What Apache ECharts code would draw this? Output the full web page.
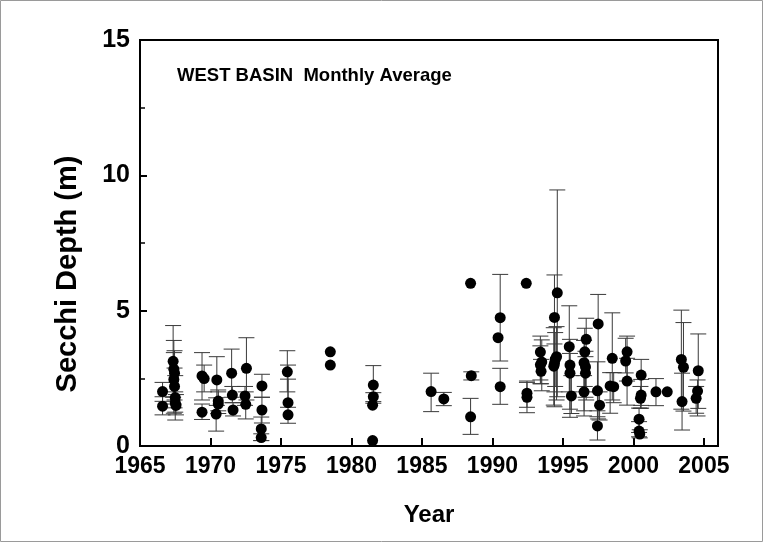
<!DOCTYPE html>
<html>
<head>
<meta charset="utf-8">
<script src="https://cdn.jsdelivr.net/npm/echarts@6/dist/echarts.min.js"></script>
<style>
html,body{margin:0;padding:0;background:#fff;}
#chart{width:763px;height:542px;}
</style>
</head>
<body>
<div id="chart"></div>
<script>
// Year of each monthly average
const years = [
  1966.6, 1966.6,
  1967.35, 1967.4, 1967.45, 1967.4, 1967.45, 1967.5, 1967.5, 1967.55,
  1969.4, 1969.55, 1969.4,
  1970.45, 1970.55, 1970.55, 1970.4,
  1971.5, 1971.55, 1971.6,
  1972.55, 1972.45, 1972.5,
  1973.65, 1973.65, 1973.6, 1973.6,
  1975.45, 1975.5, 1975.5,
  1978.5, 1978.5,
  1981.55, 1981.55, 1981.5, 1981.5,
  1985.65,
  1986.55,
  1988.45, 1988.5, 1988.45,
  1990.55, 1990.4, 1990.55,
  1992.4, 1992.45, 1992.45,
  1993.4, 1993.5, 1993.4, 1993.45,
  1994.6, 1994.4, 1994.55, 1994.45, 1994.4, 1994.35,
  1995.45, 1995.5, 1995.5, 1995.6,
  1996.65, 1996.55, 1996.5, 1996.6, 1996.6, 1996.5,
  1997.5, 1997.45, 1997.6, 1997.45,
  1998.5, 1998.35, 1998.6,
  1999.55, 1999.45, 1999.55,
  2000.55, 2000.55, 2000.5, 2000.4, 2000.4, 2000.45,
  2001.6,
  2002.4,
  2003.4, 2003.55, 2003.45,
  2004.6, 2004.55, 2004.45
];
// Secchi depth (m)
const depths = [
  2.01, 1.47,
  3.13, 2.84, 2.69, 2.46, 2.2, 1.79, 1.6, 1.5,
  2.59, 2.49, 1.25,
  2.44, 1.66, 1.55, 1.18,
  2.69, 1.88, 1.33,
  2.87, 1.85, 1.54,
  2.22, 1.33, 0.63, 0.31,
  2.74, 1.6, 1.15,
  3.48, 2.99,
  2.25, 1.82, 1.51, 0.2,
  2.01,
  1.74,
  6.01, 2.6, 1.08,
  4.74, 4.0, 2.19,
  6.01, 1.95, 1.8,
  3.47, 3.1, 3.0, 2.76,
  5.66, 4.75, 3.3, 3.2, 3.05, 2.95,
  3.67, 2.99, 2.69, 1.85,
  3.94, 3.48, 3.08, 2.92, 2.69, 2.0,
  4.51, 2.04, 1.51, 0.74,
  3.24, 2.22, 2.19,
  3.48, 3.14, 2.4,
  2.62, 1.88, 1.76, 0.99, 0.55, 0.44,
  2.0,
  2.0,
  3.2, 2.91, 1.64,
  2.78, 2.03, 1.76
];
// Error bar lower / upper ends (null = no bar)
const errLow = [
  1.65, 1.15,
  1.8, 1.55, 1.7, 1.21, 1.41, 0.96, 1.25, 1.15,
  1.7, 2.0, 0.98,
  1.5, 1.3, 1.2, 0.55,
  1.8, 1.6, 1.11,
  1.7, 1.5, 1.0,
  1.8, 0.85, 0.2, 0.2,
  2.0, 1.43, 0.84,
  null, null,
  1.58, 1.64, null, null,
  1.27,
  1.49,
  null, 2.44, 0.43,
  3.14, null, 1.54,
  null, 1.43, 1.23,
  2.44, 2.04, 2.3, 2.3,
  1.82, 1.45, 1.7, 2.2, 2.0, 1.51,
  2.0, 1.06, 1.36, 1.2,
  1.7, 2.2, 1.11, 1.8, 2.0, 1.3,
  1.0, 1.08, 0.96, 0.22,
  1.7, 1.21, 1.6,
  2.4, 2.7, 1.51,
  1.4, 1.5, 1.39, 0.5, 0.34, 0.3,
  1.49,
  null,
  1.36, 1.29, 0.59,
  1.39, 1.11, 1.21
];
const errHigh = [
  2.35, 1.82,
  4.45, 3.9, 3.52, 3.45, 2.88, 2.6, 2.0, 1.9,
  3.45, 2.99, 1.55,
  3.3, 2.0, 2.07, 1.78,
  3.58, 2.2, 1.6,
  4.0, 2.2, 2.0,
  2.65, 1.8, 1.07, 0.45,
  3.52, 2.99, 2.47,
  null, null,
  2.97, 1.97, null, null,
  2.69,
  1.98,
  null, 2.74, 1.76,
  6.34, null, 2.87,
  null, 2.4, 2.35,
  4.06, 3.92, 3.7, 3.2,
  9.46, 6.32, 4.41, 4.19, 3.77, 4.37,
  5.18, 3.94, 3.42, 2.6,
  4.72, 4.35, 3.9, 3.5, 3.3, 2.6,
  5.6, 3.11, 2.0, 1.3,
  4.92, 2.71, 2.71,
  4.06, 3.98, 3.24,
  3.2, 2.46, 2.2, 1.4, 0.9, 0.6,
  2.49,
  null,
  5.02, 4.56, 2.69,
  4.14, 2.44, 2.2
];
const xTicks = [1965, 1970, 1975, 1980, 1985, 1990, 1995, 2000, 2005];
const yTicks = [0, 5, 10, 15];

const FONT = '"Liberation Sans", Arial, sans-serif';
const pts = years.map((x, i) => [x, depths[i]]);
const bars = [];
years.forEach((x, i) => {
  if (errLow[i] != null && errHigh[i] != null) bars.push([x, depths[i], errLow[i], errHigh[i]]);
});

const chart = echarts.init(document.getElementById('chart'), null, {renderer: 'canvas'});
chart.setOption({
  backgroundColor: '#fff',
  animation: false,
  grid: {left: 140, top: 40, width: 578, height: 406, show: true, borderColor: '#000', borderWidth: 2, backgroundColor: 'transparent'},
  graphic: [
    {type: 'rect', shape: {x: 0.5, y: 0.5, width: 762, height: 541}, style: {fill: 'none', stroke: '#9a9a9a', lineWidth: 1}, z: 100},
    {type: 'text', left: 177, top: 66, style: {text: 'WEST BASIN  Monthly Average', font: 'bold 18.5px ' + FONT, fill: '#000'}},
    {type: 'text', x: 68, y: 274, rotation: Math.PI / 2,
      style: {text: 'Secchi Depth (m)', font: 'bold 29px ' + FONT, fill: '#000', textAlign: 'center', textVerticalAlign: 'middle'}}
  ],
  xAxis: {
    type: 'value', min: 1965, max: 2006, interval: 5,
    axisLine: {show: true, lineStyle: {color: '#000', width: 2}},
    axisTick: {show: true, inside: true, length: 8, lineStyle: {color: '#000', width: 2}},
    axisLabel: {margin: 9, color: '#000', fontFamily: FONT, fontWeight: 'bold', fontSize: 23,
      formatter: v => xTicks.includes(v) ? String(v) : ''},
    splitLine: {show: false},
    name: 'Year', nameLocation: 'middle', nameGap: 57,
    nameTextStyle: {color: '#000', fontFamily: FONT, fontWeight: 'bold', fontSize: 24}
  },
  yAxis: {
    type: 'value', min: 0, max: 15, interval: 5,
    axisLine: {show: true, lineStyle: {color: '#000', width: 2}},
    axisTick: {show: true, inside: true, length: 7, lineStyle: {color: '#000', width: 2}},
    minorTick: {show: true, splitNumber: 2, length: 5, lineStyle: {color: '#000', width: 1.5}},
    axisLabel: {margin: 10, color: '#000', fontFamily: FONT, fontWeight: 'bold', fontSize: 25,
      formatter: v => yTicks.includes(v) ? String(v) : ''},
    splitLine: {show: false}
  },
  series: [
    {
      type: 'custom', z: 2,
      data: bars,
      renderItem: function (params, api) {
        const x = api.value(0);
        const top = api.coord([x, api.value(3)]);
        const bot = api.coord([x, api.value(2)]);
        const hw = 8;
        const st = {stroke: '#3a3a3a', lineWidth: 1};
        return {type: 'group', children: [
          {type: 'line', shape: {x1: top[0], y1: top[1], x2: bot[0], y2: bot[1]}, style: st},
          {type: 'line', shape: {x1: top[0] - hw, y1: top[1], x2: top[0] + hw, y2: top[1]}, style: st},
          {type: 'line', shape: {x1: bot[0] - hw, y1: bot[1], x2: bot[0] + hw, y2: bot[1]}, style: st}
        ]};
      }
    },
    {
      type: 'scatter', z: 5, data: pts, symbol: 'circle', symbolSize: 11,
      itemStyle: {color: '#000', opacity: 1}
    }
  ]
});
</script>
</body>
</html>
